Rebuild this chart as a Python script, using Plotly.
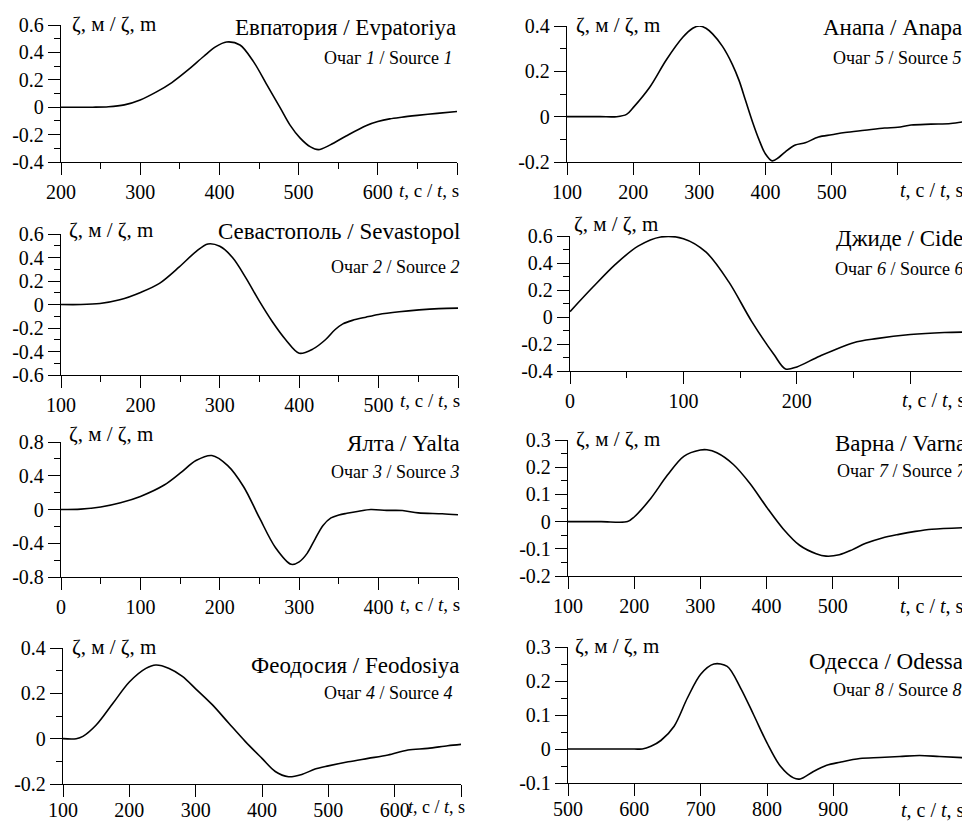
import plotly.graph_objects as go

# ---------------- data ----------------
stations = ["Евпатория / Evpatoriya", "Анапа / Anapa", "Севастополь / Sevastopol", "Джиде / Cide",
            "Ялта / Yalta", "Варна / Varna", "Феодосия / Feodosiya", "Одесса / Odessa"]
sources = ["1", "5", "2", "6", "3", "7", "4", "8"]

t1 = [200, 240, 260, 280, 300, 320, 340, 360, 380, 395, 409, 426, 443, 460, 477, 489, 502, 515, 525, 540, 560, 585, 600, 615, 630, 650, 675, 700]
z1 = [0, 0, 0.003, 0.017, 0.053, 0.11, 0.18, 0.27, 0.37, 0.44, 0.476, 0.454, 0.333, 0.163, -0.007, -0.129, -0.226, -0.29, -0.31, -0.275, -0.21, -0.135, -0.105, -0.085, -0.073, -0.06, -0.045, -0.031]

t2 = [100, 150, 175, 190, 200, 225, 250, 275, 290, 300, 310, 320, 335, 350, 360, 370, 380, 390, 400, 410, 420, 430, 445, 460, 480, 500, 520, 550, 580, 600, 620, 650, 680, 700]
z2 = [0, 0, 0, 0.01, 0.04, 0.13, 0.25, 0.35, 0.39, 0.40, 0.39, 0.365, 0.31, 0.23, 0.16, 0.07, -0.02, -0.10, -0.165, -0.195, -0.18, -0.155, -0.125, -0.115, -0.09, -0.08, -0.07, -0.06, -0.05, -0.047, -0.037, -0.033, -0.03, -0.022]

t3 = [100, 125, 149, 174, 201, 224, 249, 270, 285, 300, 316, 333, 350, 366, 383, 400, 417, 433, 445, 455, 467, 484, 500, 526, 551, 576, 600]
z3 = [0, 0, 0.009, 0.04, 0.105, 0.18, 0.32, 0.45, 0.515, 0.495, 0.40, 0.225, 0.026, -0.145, -0.30, -0.415, -0.38, -0.30, -0.215, -0.165, -0.135, -0.108, -0.085, -0.062, -0.046, -0.035, -0.031]

t4 = [0, 20, 40, 60, 80, 100, 120, 140, 160, 180, 190, 200, 220, 250, 270, 300, 330, 350]
z4 = [0.04, 0.22, 0.39, 0.525, 0.593, 0.58, 0.48, 0.26, -0.03, -0.28, -0.385, -0.37, -0.29, -0.19, -0.16, -0.13, -0.115, -0.112]

t5 = [0, 25, 50, 75, 100, 130, 150, 170, 190, 210, 230, 250, 270, 290, 300, 310, 320, 330, 340, 350, 360, 375, 390, 410, 430, 450, 480, 500]
z5 = [0, 0.005, 0.03, 0.08, 0.155, 0.29, 0.43, 0.58, 0.64, 0.52, 0.27, -0.10, -0.45, -0.65, -0.62, -0.52, -0.35, -0.19, -0.10, -0.065, -0.045, -0.02, 0, -0.01, -0.012, -0.04, -0.05, -0.063]

t6 = [100, 150, 190, 200, 225, 250, 275, 300, 310, 325, 350, 375, 400, 425, 450, 475, 490, 510, 530, 550, 575, 600, 625, 650, 700]
z6 = [0, 0, 0, 0.017, 0.085, 0.17, 0.24, 0.263, 0.264, 0.253, 0.21, 0.14, 0.054, -0.026, -0.087, -0.118, -0.127, -0.122, -0.103, -0.08, -0.06, -0.047, -0.036, -0.028, -0.022]

t7 = [100, 120, 130, 150, 175, 200, 225, 240, 260, 280, 300, 325, 350, 375, 400, 420, 440, 460, 480, 500, 530, 560, 590, 620, 650, 680, 700]
z7 = [0, 0, 0.01, 0.06, 0.155, 0.25, 0.31, 0.325, 0.31, 0.275, 0.22, 0.15, 0.068, -0.013, -0.087, -0.145, -0.168, -0.158, -0.134, -0.12, -0.102, -0.087, -0.072, -0.05, -0.043, -0.031, -0.025]

t8 = [500, 600, 612, 625, 640, 660, 680, 700, 720, 740, 760, 780, 800, 820, 840, 850, 870, 890, 910, 940, 970, 1000, 1030, 1060, 1100]
z8 = [0, 0, 0, 0.008, 0.025, 0.067, 0.15, 0.22, 0.25, 0.243, 0.18, 0.10, 0.018, -0.05, -0.085, -0.088, -0.066, -0.048, -0.039, -0.028, -0.025, -0.022, -0.019, -0.022, -0.026]

# axis ranges and ticks
x_ranges = [(200, 700), (100, 700), (100, 600), (0, 350), (0, 500), (100, 700), (100, 700), (500, 1100)]
x_major = [[200, 300, 400, 500, 600, 700], [100, 200, 300, 400, 500, 600, 700],
           [100, 200, 300, 400, 500, 600], [0, 100, 200, 300],
           [0, 100, 200, 300, 400, 500], [100, 200, 300, 400, 500, 600, 700],
           [100, 200, 300, 400, 500, 600, 700], [500, 600, 700, 800, 900, 1000, 1100]]
x_labels = [["200", "300", "400", "500", "600", ""], ["100", "200", "300", "400", "500", "", ""],
            ["100", "200", "300", "400", "500", ""], ["0", "100", "200", ""],
            ["0", "100", "200", "300", "400", ""], ["100", "200", "300", "400", "500", "", ""],
            ["100", "200", "300", "400", "500", "600", ""], ["500", "600", "700", "800", "900", "", ""]]
x_minor = [[250, 350, 450, 550, 650], [], [150, 250, 350, 450, 550], [50, 150, 250, 350],
           [50, 150, 250, 350, 450], [], [], []]

y_ranges = [(-0.4, 0.6), (-0.2, 0.4), (-0.6, 0.6), (-0.4, 0.6), (-0.8, 0.8), (-0.2, 0.3), (-0.2, 0.4), (-0.1, 0.3)]
y_major = [[-0.4, -0.2, 0, 0.2, 0.4, 0.6], [-0.2, 0, 0.2, 0.4], [-0.6, -0.4, -0.2, 0, 0.2, 0.4, 0.6],
           [-0.4, -0.2, 0, 0.2, 0.4, 0.6], [-0.8, -0.4, 0, 0.4, 0.8], [-0.2, -0.1, 0, 0.1, 0.2, 0.3],
           [-0.2, 0, 0.2, 0.4], [-0.1, 0, 0.1, 0.2, 0.3]]
y_labels = [["-0.4", "-0.2", "0", "0.2", "0.4", "0.6"], ["-0.2", "0", "0.2", "0.4"],
            ["-0.6", "-0.4", "-0.2", "0", "0.2", "0.4", "0.6"], ["-0.4", "-0.2", "0", "0.2", "0.4", "0.6"],
            ["-0.8", "-0.4", "0", "0.4", "0.8"], ["-0.2", "-0.1", "0", "0.1", "0.2", "0.3"],
            ["-0.2", "0", "0.2", "0.4"], ["-0.1", "0", "0.1", "0.2", "0.3"]]
y_minor = [[-0.3, -0.1, 0.1, 0.3, 0.5], [-0.1, 0.1, 0.3], [-0.5, -0.3, -0.1, 0.1, 0.3, 0.5],
           [-0.3, -0.1, 0.1, 0.3, 0.5], [-0.6, -0.2, 0.2, 0.6], [-0.15, -0.05, 0.05, 0.15, 0.25],
           [-0.1, 0.1, 0.3], [-0.05, 0.05, 0.15, 0.25]]

series_t = [t1, t2, t3, t4, t5, t6, t7, t8]
series_z = [z1, z2, z3, z4, z5, z6, z7, z8]

# ---------------- layout geometry (page pixels) ----------------
PAGE_W, PAGE_H = 970, 823
OFF = 8                      # default body margin of the html page
W, H = PAGE_W - OFF, PAGE_H - OFF


def fx(px):
    return (px - OFF) / W


def fy(py):
    return 1 - (py - OFF) / H


# (x0, x1, ytop, ybottom) of plot areas
geom = [(61, 457, 25, 162), (567, 964, 26, 162), (61, 458, 234, 375), (570, 967, 236, 371),
        (61, 458, 442, 577), (568, 965, 440, 576), (63, 461, 648, 784), (568, 966, 647, 783)]
# title (x right, y), subtitle (x right, y), zeta label (x left, y), t label (x right, y, size)
title_pos = [(458, 28), (964, 28), (462, 232), (965, 239), (462, 443), (968, 443), (462, 665), (965, 661)]
sub_pos = [(454, 58), (963, 58), (461, 267), (965, 269), (461, 472), (968, 471), (454, 693), (963, 690)]
zeta_pos = [(70, 24), (574, 25), (67, 230), (572, 224), (67, 434), (574, 439), (70, 647), (573, 646)]
tlab_pos = [(461, 190, 19), (966, 190, 20), (462, 400, 19), (968, 400, 20), (462, 604, 19),
            (966, 606, 20), (467, 807, 18), (967, 810, 20)]
bottom_row = [False, False, False, False, False, False, True, True]

FONT = "Liberation Serif"
fig = go.Figure()
ann = []
for i in range(8):
    k = i + 1
    x0, x1, yt, yb = geom[i]
    fig.add_trace(go.Scatter(x=series_t[i], y=series_z[i], mode="lines",
                             line=dict(color="black", width=1.6, shape="spline", smoothing=0.9),
                             xaxis=f"x{k}", yaxis=f"y{k}", showlegend=False, hoverinfo="skip"))
    common = dict(showline=True, linecolor="black", linewidth=1.4, ticks="outside", ticklen=12,
                  tickwidth=1.4, tickcolor="black", showgrid=False, zeroline=False, automargin=False,
                  tickfont=dict(family=FONT, size=20, color="black"), tickmode="array", fixedrange=True)
    fig.layout[f"xaxis{k}"] = dict(domain=[fx(x0), fx(x1)], anchor=f"y{k}", range=list(x_ranges[i]),
                                   tickvals=x_major[i], ticktext=x_labels[i],
                                   ticklabelstandoff=-4 if bottom_row[i] else 0,
                                   minor=dict(tickvals=x_minor[i], ticks="outside", ticklen=6,
                                              tickwidth=1.4, tickcolor="black", showgrid=False),
                                   **common)
    fig.layout[f"yaxis{k}"] = dict(domain=[fy(yb), fy(yt)], anchor=f"x{k}", range=list(y_ranges[i]),
                                   tickvals=y_major[i], ticktext=y_labels[i],
                                   minor=dict(tickvals=y_minor[i], ticks="outside", ticklen=6,
                                              tickwidth=1.4, tickcolor="black", showgrid=False),
                                   **common)
    tx, ty = title_pos[i]
    ann.append(dict(text=stations[i], x=fx(tx), y=fy(ty), xanchor="right", yanchor="middle",
                    font=dict(family=FONT, size=23, color="black")))
    sx, sy = sub_pos[i]
    ann.append(dict(text=f"Очаг <i>{sources[i]}</i> / Source <i>{sources[i]}</i>", x=fx(sx), y=fy(sy),
                    xanchor="right", yanchor="middle", font=dict(family=FONT, size=18, color="black")))
    zx, zy = zeta_pos[i]
    ann.append(dict(text="ζ, м / ζ, m", x=fx(zx), y=fy(zy), xanchor="left", yanchor="middle",
                    font=dict(family=FONT, size=21, color="black")))
    lx, ly, ls = tlab_pos[i]
    ann.append(dict(text="<i>t</i>, с / <i>t</i>, s", x=fx(lx), y=fy(ly), xanchor="right", yanchor="middle",
                    font=dict(family=FONT, size=ls, color="black")))

for a in ann:
    a.update(xref="paper", yref="paper", showarrow=False)

fig.update_layout(width=W, height=H, margin=dict(l=0, r=0, t=0, b=0, autoexpand=False),
                  paper_bgcolor="white", plot_bgcolor="white", annotations=ann,
                  font=dict(family=FONT, size=20, color="black"))
fig.write_html("out.html")
